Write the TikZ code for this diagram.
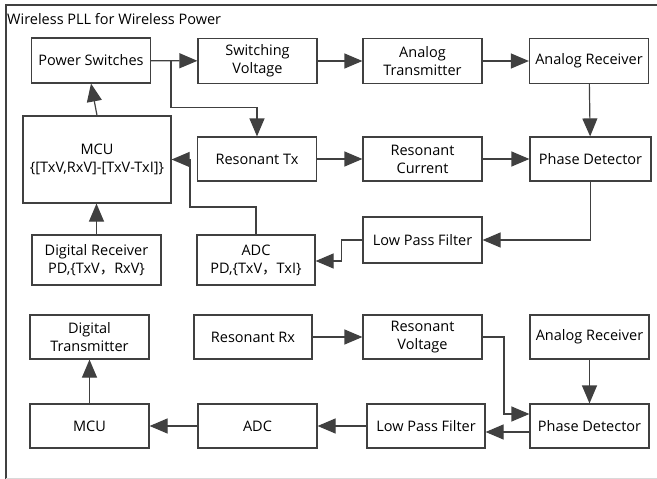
\documentclass[tikz,border=0pt]{standalone}
\usepackage{fontspec}
\setmainfont{Open Sans}
\newfontfamily\cjk{Noto Sans CJK SC}
\usepackage{tikz}
\usetikzlibrary{arrows.meta,calc}

\definecolor{ln}{HTML}{404040}

\begin{document}
\begin{tikzpicture}[x=1pt,y=1pt,>={Triangle[length=18pt,width=15pt]},
  blk/.style={draw=ln,line width=1.2pt,align=center,inner sep=0pt,minimum width=119pt,minimum height=45pt,font=\fontsize{14.5}{18}\selectfont},
  arr/.style={draw=ln,line width=1.2pt,->}]
\useasboundingbox (0,0) rectangle (657,-479);
\draw[ln,line width=1.2pt] (6,-479) -- (6,-5) -- (657,-5);
\draw[black!15,line width=1pt] (6,-478) -- (657,-478);
\node[anchor=west,font=\fontsize{14.5}{18}\selectfont,inner sep=0pt] (title) at (7,-19) {Wireless PLL for Wireless Power};

\node[blk] (ps) at (91,-60.5) {Power Switches};
\node[blk] (sv) at (257.5,-61) {Switching\\Voltage};
\node[blk] (at) at (422.5,-61) {Analog\\Transmitter};
\node[blk] (ar) at (589,-61) {Analog Receiver};
\node[blk,minimum width=148pt,minimum height=87pt] (mcu) at (97,-159.5) {MCU\\\{[TxV,RxV]-[TxV-TxI]\}};
\node[blk,minimum height=44pt] (rtx) at (257,-159) {Resonant Tx};
\node[blk,minimum height=44pt] (rc) at (422.5,-159) {Resonant\\Current};
\node[blk,minimum width=121pt,minimum height=44pt] (pd) at (590.5,-159) {Phase Detector};
\node[blk,minimum width=129pt,minimum height=50pt] (dr) at (96.5,-260) {Digital Receiver\\PD,\{TxV{\cjk ，}RxV\}};
\node[blk,minimum width=118pt,minimum height=50pt] (adc) at (256,-260) {ADC\\PD,\{TxV{\cjk ，}TxI\}};
\node[blk,minimum height=46pt] (lpf) at (422.5,-240) {Low Pass Filter};

\node[blk,minimum height=44pt] (dt) at (89.5,-337) {Digital\\Transmitter};
\node[blk,minimum width=118pt,minimum height=44pt] (rrx) at (253,-337) {Resonant Rx};
\node[blk,minimum height=44pt] (rv) at (422.5,-337) {Resonant\\Voltage};
\node[blk,minimum height=44pt] (ar2) at (589.5,-337) {Analog Receiver};
\node[blk,minimum height=44pt] (mcu2) at (89.5,-426) {MCU};
\node[blk,minimum height=44pt] (adc2) at (257.5,-426) {ADC};
\node[blk,minimum width=118pt,minimum height=44pt] (lpf2) at (426,-426) {Low Pass Filter};
\node[blk,minimum height=44pt] (pd2) at (589.5,-426) {Phase Detector};

\coordinate (k1) at (171,-60.5);
\coordinate (k2) at (190,-207);
\coordinate (k3) at (504,-414);

\draw[arr] (ps) -- (sv);
\draw[arr] (k1) |- ($(rtx.north)+(0,29)$) -- (rtx.north);
\draw[arr] (sv) -- (at);
\draw[arr] (at) -- (ar);
\draw[arr] (ar) -- (pd);
\draw[arr] (mcu.north) -- (ps.south);
\draw[arr] (rtx) -- (rc);
\draw[arr] (rc) -- (pd);
\draw[arr] (dr) -- (mcu.south -| dr.north);
\draw[arr] (adc.north) |- (k2) |- (mcu.east);
\draw[arr] (pd.south) |- (lpf.east);
\draw[arr] (lpf.west) -- ++(-21,0) |- ([yshift=-1pt]adc.east);

\draw[arr] (rrx) -- (rv);
\draw[arr] (rv.east) -| (k3) -- (k3 -| pd2.west);
\draw[arr] (ar2) -- (pd2);
\draw[arr] ([yshift=-6pt]pd2.west) -- ([yshift=-6pt]lpf2.east);
\draw[arr] (lpf2) -- (adc2);
\draw[arr] (adc2) -- (mcu2);
\draw[arr] (mcu2) -- (dt);
\end{tikzpicture}
\end{document}
